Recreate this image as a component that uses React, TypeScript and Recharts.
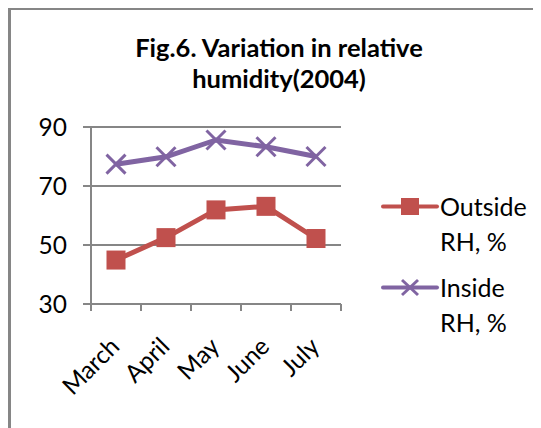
import React from "react";
import { LineChart, Line, XAxis, YAxis, CartesianGrid, Legend } from "recharts";

const categories = ["March", "April", "May", "June", "July"];
const outsideRH = [44.9, 52.5, 61.9, 63.1, 52.2];
const insideRH = [77.4, 79.9, 85.6, 83.3, 80.0];
const yTicks = [30, 50, 70, 90];
const titleLines = ["Fig.6. Variation in relative", "humidity(2004)"];
const seriesNames = ["Outside RH, %", "Inside RH, %"];

const data = categories.map((c, i) => ({ month: c, outside: outsideRH[i], inside: insideRH[i] }));

const W = 533;
const H = 420;
const PLOT_LEFT = 83;
const PLOT_RIGHT = 333;
const PLOT_TOP = 119;
const PLOT_BOTTOM = 296;
const Y_AXIS_W = 60;
const X_AXIS_H = 60;
const GRAY = "#868686";
const RED = "#C0504D";
const PURPLE = "#8064A2";
const FONT = "Lato, 'Open Sans', sans-serif";
const FS = 24.5;

const BAND = (PLOT_RIGHT - PLOT_LEFT) / categories.length;

const CategoryTick = (props: any) => {
  const { x, y, payload, index } = props;
  const tx = x + 5;
  const ty = y + 44;
  return (
    <g>
      <line x1={x - BAND / 2} y1={y} x2={x - BAND / 2} y2={y + 7} stroke={GRAY} strokeWidth={2} />
      {index === categories.length - 1 && (
        <line x1={x + BAND / 2} y1={y} x2={x + BAND / 2} y2={y + 7} stroke={GRAY} strokeWidth={2} />
      )}
      <text
        x={tx}
        y={ty}
        textAnchor="end"
        transform={`rotate(-45 ${tx} ${ty})`}
        fontFamily={FONT}
        fontSize={FS}
        fill="#000"
      >
        {payload.value}
      </text>
    </g>
  );
};

const SquareDot = (props: any) => {
  const { cx, cy } = props;
  if (cx == null || cy == null) return null;
  return <rect x={cx - 9.5} y={cy - 9.5} width={19} height={19} fill={RED} />;
};

const CrossDot = (props: any) => {
  const { cx, cy } = props;
  if (cx == null || cy == null) return null;
  const s = 9.5;
  return (
    <g stroke={PURPLE} strokeWidth={3}>
      <line x1={cx - s} y1={cy - s} x2={cx + s} y2={cy + s} />
      <line x1={cx - s} y1={cy + s} x2={cx + s} y2={cy - s} />
    </g>
  );
};

const LegendContent = (props: any) => {
  const payload = [...(props.payload || [])].sort(
    (a: any, b: any) => seriesNames.indexOf(a.value) - seriesNames.indexOf(b.value)
  );
  return (
    <div>
      {payload.map((entry: any, i: number) => {
        const isSquare = entry.dataKey === "outside";
        return (
          <div key={i} style={{ display: "flex", alignItems: "flex-start", marginBottom: 11 }}>
            <svg width={59} height={35} style={{ display: "block", flex: "none" }}>
              <line x1={2} y1={17.5} x2={56} y2={17.5} stroke={entry.color} strokeWidth={4} strokeLinecap="round" />
              {isSquare ? (
                <rect x={20} y={9} width={18} height={17} fill={entry.color} />
              ) : (
                <g stroke={entry.color} strokeWidth={3}>
                  <line x1={21} y1={10} x2={37} y2={25} />
                  <line x1={21} y1={25} x2={37} y2={10} />
                </g>
              )}
            </svg>
            <div
              style={{
                fontFamily: FONT,
                fontSize: 25,
                lineHeight: "35px",
                width: 92,
                color: "#000",
              }}
            >
              {entry.value}
            </div>
          </div>
        );
      })}
    </div>
  );
};

export default function App() {
  return (
    <div style={{ position: "relative", width: W, height: H, background: "#fff" }}>
      <div style={{ position: "absolute", left: 0, top: 0, width: 3, height: H, background: GRAY }} />
      <div style={{ position: "absolute", left: 0, top: 0, width: W, height: 2, background: GRAY }} />
      <svg width={W} height={100} style={{ position: "absolute", left: 0, top: 0 }}>
        <text x={271} y={48.7} textAnchor="middle" fontFamily="Lato, sans-serif" fontWeight="bold" fontSize={25.5} fill="#000">
          {titleLines[0]}
        </text>
        <text x={271} y={80.3} textAnchor="middle" fontFamily="Lato, sans-serif" fontWeight="bold" fontSize={25.5} fill="#000">
          {titleLines[1]}
        </text>
      </svg>
      <div style={{ position: "absolute", left: 0, top: 0 }}>
        <LineChart
          width={W}
          height={H}
          data={data}
          margin={{
            top: PLOT_TOP,
            left: PLOT_LEFT - Y_AXIS_W,
            right: W - PLOT_RIGHT,
            bottom: H - PLOT_BOTTOM - X_AXIS_H,
          }}
        >
          <CartesianGrid horizontal vertical={false} stroke={GRAY} strokeWidth={2} />
          <XAxis
            dataKey="month"
            height={X_AXIS_H}
            padding={{ left: BAND / 2, right: BAND / 2 }}
            axisLine={{ stroke: GRAY, strokeWidth: 2 }}
            tickLine={false}
            tickSize={0}
            tickMargin={0}
            tick={<CategoryTick />}
            interval={0}
          />
          <YAxis
            width={Y_AXIS_W}
            domain={[30, 90]}
            ticks={yTicks}
            allowDataOverflow
            axisLine={{ stroke: GRAY, strokeWidth: 2 }}
            tickLine={{ stroke: GRAY, strokeWidth: 2 }}
            tickSize={8}
            tickMargin={16}
            tick={{ fontFamily: FONT, fontSize: FS, fill: "#000" }}
          />
          <Legend
            layout="vertical"
            align="center"
            verticalAlign="middle"
            content={<LegendContent />}
            wrapperStyle={{ left: 373, top: 181, right: "auto", bottom: "auto", width: 160 }}
          />
          <Line
            dataKey="outside"
            name={seriesNames[0]}
            stroke={RED}
            strokeWidth={5}
            dot={<SquareDot />}
            activeDot={false}
            isAnimationActive={false}
          />
          <Line
            dataKey="inside"
            name={seriesNames[1]}
            stroke={PURPLE}
            strokeWidth={5}
            dot={<CrossDot />}
            activeDot={false}
            isAnimationActive={false}
          />
        </LineChart>
      </div>
    </div>
  );
}
